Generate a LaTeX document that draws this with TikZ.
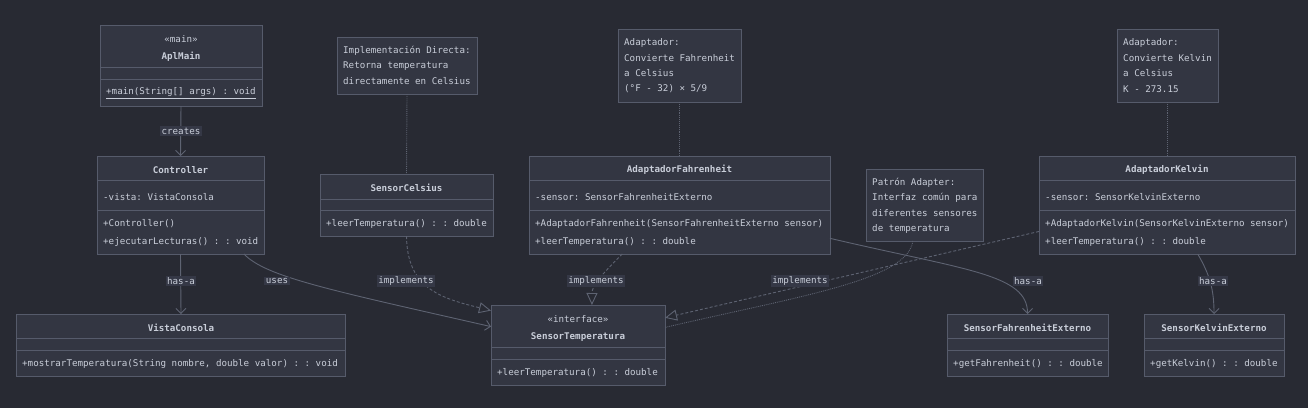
\documentclass[tikz,border=0pt]{standalone}
\usepackage{fontspec}
\setmonofont{DejaVu Sans Mono}
\usetikzlibrary{arrows.meta,calc}
\definecolor{bgdark}{HTML}{282A33}
\definecolor{boxfill}{HTML}{333642}
\definecolor{boxline}{HTML}{565B6B}
\definecolor{linkgray}{HTML}{5E6372}
\definecolor{textlight}{HTML}{C9CED9}
\definecolor{lblfill}{HTML}{353846}

\tikzset{
    classbox/.style={draw=boxline, fill=boxfill, line width=0.9pt, anchor=north west, inner sep=0pt, outer sep=0pt},
    notebox/.style={classbox},
    divline/.style={draw=boxline, line width=0.9pt},
    txt/.style={text=textlight, font=\ttfamily\fontsize{9.2}{11}\selectfont, inner sep=0pt},
    member/.style={txt, anchor=west},
    title/.style={txt, font=\ttfamily\bfseries\fontsize{9.2}{11}\selectfont},
    lbl/.style={txt, fill=lblfill, inner sep=1.6pt},
    link/.style={draw=linkgray, line width=0.9pt},
    assoc/.style={link, -{Straight Barb[length=5pt,width=10pt,line width=0.9pt]}},
    realize/.style={link, densely dashed, -{Triangle[open,length=12pt,width=11pt,fill=bgdark,line width=0.9pt]}},
    noteline/.style={link, densely dotted}
}

\begin{document}
\begin{tikzpicture}[x=1pt, y=-1pt]
    % Background
    \fill[bgdark] (0,0) rectangle (1308,408);
    \useasboundingbox (0,0) rectangle (1308,408);

    % AplMain
    \node[classbox, minimum width=162, minimum height=81] (aplmain) at (100,25) {};
    \draw[divline] (100,67) -- (262,67);
    \draw[divline] (100,79) -- (262,79);
    \node[txt] (aplmainstereo) at (181,39) {«main»};
    \node[title] (aplmainname) at (181,57) {AplMain};
    \node[member] (aplmainm1) at (106,93) {\underline{+main(String[] args) : void}};

    % Controller
    \node[classbox, minimum width=167, minimum height=98] (ctrl) at (97,156) {};
    \draw[divline] (97,180) -- (264,180);
    \draw[divline] (97,210) -- (264,210);
    \node[title] (ctrlname) at (180.5,170) {Controller};
    \node[member] (ctrla1) at (103,197) {-vista: VistaConsola};
    \node[member] (ctrlm1) at (103,224) {+Controller()};
    \node[member] (ctrlm2) at (103,242) {+ejecutarLecturas() : : void};

    % VistaConsola
    \node[classbox, minimum width=329, minimum height=62] (vista) at (16.5,314) {};
    \draw[divline] (16.5,338) -- (345.5,338);
    \draw[divline] (16.5,350) -- (345.5,350);
    \node[title] (vistaname) at (181,328) {VistaConsola};
    \node[member] (vistam1) at (22,364) {+mostrarTemperatura(String nombre, double valor) : : void};

    % SensorCelsius
    \node[classbox, minimum width=173, minimum height=62] (sensC) at (320,174) {};
    \draw[divline] (320,199) -- (493,199);
    \draw[divline] (320,210) -- (493,210);
    \node[title] (sensCname) at (406.5,188) {SensorCelsius};
    \node[member] (sensCm1) at (326,224) {+leerTemperatura() : : double};

    % SensorTemperatura (interface)
    \node[classbox, minimum width=174, minimum height=80] (sensT) at (491,305) {};
    \draw[divline] (491,347) -- (665,347);
    \draw[divline] (491,359) -- (665,359);
    \node[txt] (sensTstereo) at (578,319) {«interface»};
    \node[title] (sensTname) at (578,337) {SensorTemperatura};
    \node[member] (sensTm1) at (497,373) {+leerTemperatura() : : double};

    % AdaptadorFahrenheit
    \node[classbox, minimum width=301, minimum height=98] (adF) at (529,156) {};
    \draw[divline] (529,180) -- (830,180);
    \draw[divline] (529,210) -- (830,210);
    \node[title] (adFname) at (679.5,170) {AdaptadorFahrenheit};
    \node[member] (adFa1) at (535,197) {-sensor: SensorFahrenheitExterno};
    \node[member] (adFm1) at (535,224) {+AdaptadorFahrenheit(SensorFahrenheitExterno sensor)};
    \node[member] (adFm2) at (535,242) {+leerTemperatura() : : double};

    % AdaptadorKelvin
    \node[classbox, minimum width=256, minimum height=98] (adK) at (1039,156) {};
    \draw[divline] (1039,180) -- (1295,180);
    \draw[divline] (1039,210) -- (1295,210);
    \node[title] (adKname) at (1167,170) {AdaptadorKelvin};
    \node[member] (adKa1) at (1045,197) {-sensor: SensorKelvinExterno};
    \node[member] (adKm1) at (1045,224) {+AdaptadorKelvin(SensorKelvinExterno sensor)};
    \node[member] (adKm2) at (1045,242) {+leerTemperatura() : : double};

    % SensorFahrenheitExterno
    \node[classbox, minimum width=161, minimum height=62] (sFE) at (947,314) {};
    \draw[divline] (947,338) -- (1108,338);
    \draw[divline] (947,350) -- (1108,350);
    \node[title] (sFEname) at (1027.5,328) {SensorFahrenheitExterno};
    \node[member] (sFEm1) at (953,364) {+getFahrenheit() : : double};

    % SensorKelvinExterno
    \node[classbox, minimum width=140, minimum height=62] (sKE) at (1144,314) {};
    \draw[divline] (1144,338) -- (1284,338);
    \draw[divline] (1144,350) -- (1284,350);
    \node[title] (sKEname) at (1214,328) {SensorKelvinExterno};
    \node[member] (sKEm1) at (1150,364) {+getKelvin() : : double};

    % Notes
    \node[notebox, minimum width=140, minimum height=57] (noteC) at (337,37) {};
    \node[member] (noteCl1) at (343,51) {Implementación Directa:};
    \node[member] (noteCl2) at (343,66) {Retorna temperatura};
    \node[member] (noteCl3) at (343,81) {directamente en Celsius};

    \node[notebox, minimum width=123, minimum height=73] (noteF) at (618,29) {};
    \node[member] (noteFl1) at (624,43) {Adaptador:};
    \node[member] (noteFl2) at (624,58) {Convierte Fahrenheit};
    \node[member] (noteFl3) at (624,73) {a Celsius};
    \node[member] (noteFl4) at (624,89) {(°F - 32) × 5/9};

    \node[notebox, minimum width=101, minimum height=73] (noteK) at (1117,29) {};
    \node[member] (noteKl1) at (1123,43) {Adaptador:};
    \node[member] (noteKl2) at (1123,58) {Convierte Kelvin};
    \node[member] (noteKl3) at (1123,73) {a Celsius};
    \node[member] (noteKl4) at (1123,89) {K - 273.15};

    \node[notebox, minimum width=117, minimum height=72] (noteP) at (866,169) {};
    \node[member] (notePl1) at (872,183) {Patrón Adapter:};
    \node[member] (notePl2) at (872,198) {Interfaz común para};
    \node[member] (notePl3) at (872,213) {diferentes sensores};
    \node[member] (notePl4) at (872,229) {de temperatura};

    % Note links
    \draw[noteline] (noteC.south) -- (sensC.north);
    \draw[noteline] (noteF.south -| adF.north) -- (adF.north);
    \draw[noteline] (noteK.south -| adK.north) -- (adK.north);
    \draw[noteline] ($(noteP.south west)!0.4!(noteP.south east)$)
        .. controls (908,280) and (800,296) .. ($(sensT.north east)!0.28!(sensT.south east)$);

    % Associations
    \draw[assoc] (aplmain.south) -- (ctrl.north);
    \node[lbl] (lblcreates) at (181,131) {creates};

    \draw[assoc] (ctrl.south) -- (vista.north);
    \node[lbl] (lblhasa1) at (181,281) {has-a};

    \draw[assoc] ($(ctrl.south west)!0.88!(ctrl.south east)$)
        .. controls (266,277) and (330,290) .. ($(sensT.north west)!0.27!(sensT.south west)$);
    \node[lbl] (lbluses) at (277,281) {uses};

    \draw[assoc] ($(adF.north east)!0.84!(adF.south east)$)
        .. controls (965,270) and (1027.5,274) .. (sFE.north);
    \node[lbl] (lblhasa2) at (1028,281) {has-a};

    \draw[assoc] ($(adK.south west)!0.62!(adK.south east)$)
        .. controls (1210,275) and (1214,290) .. (sKE.north);
    \node[lbl] (lblhasa3) at (1213,281) {has-a};

    % Realizations
    \draw[realize] (sensC.south)
        .. controls (407,288) and (440,298) .. ($(sensT.north west)!0.07!(sensT.south west)$);
    \node[lbl] (lblimplC) at (406,281) {implements};

    \draw[realize] ($(adF.south west)!0.31!(adF.south east)$)
        .. controls (600,276) and (592,286) .. ($(sensT.north west)!0.58!(sensT.north east)$);
    \node[lbl] (lblimplF) at (596,281) {implements};

    \draw[realize] ($(adK.north west)!0.77!(adK.south west)$)
        -- ($(sensT.north east)!0.16!(sensT.south east)$);
    \node[lbl] (lblimplK) at (800,281) {implements};
\end{tikzpicture}
\end{document}
